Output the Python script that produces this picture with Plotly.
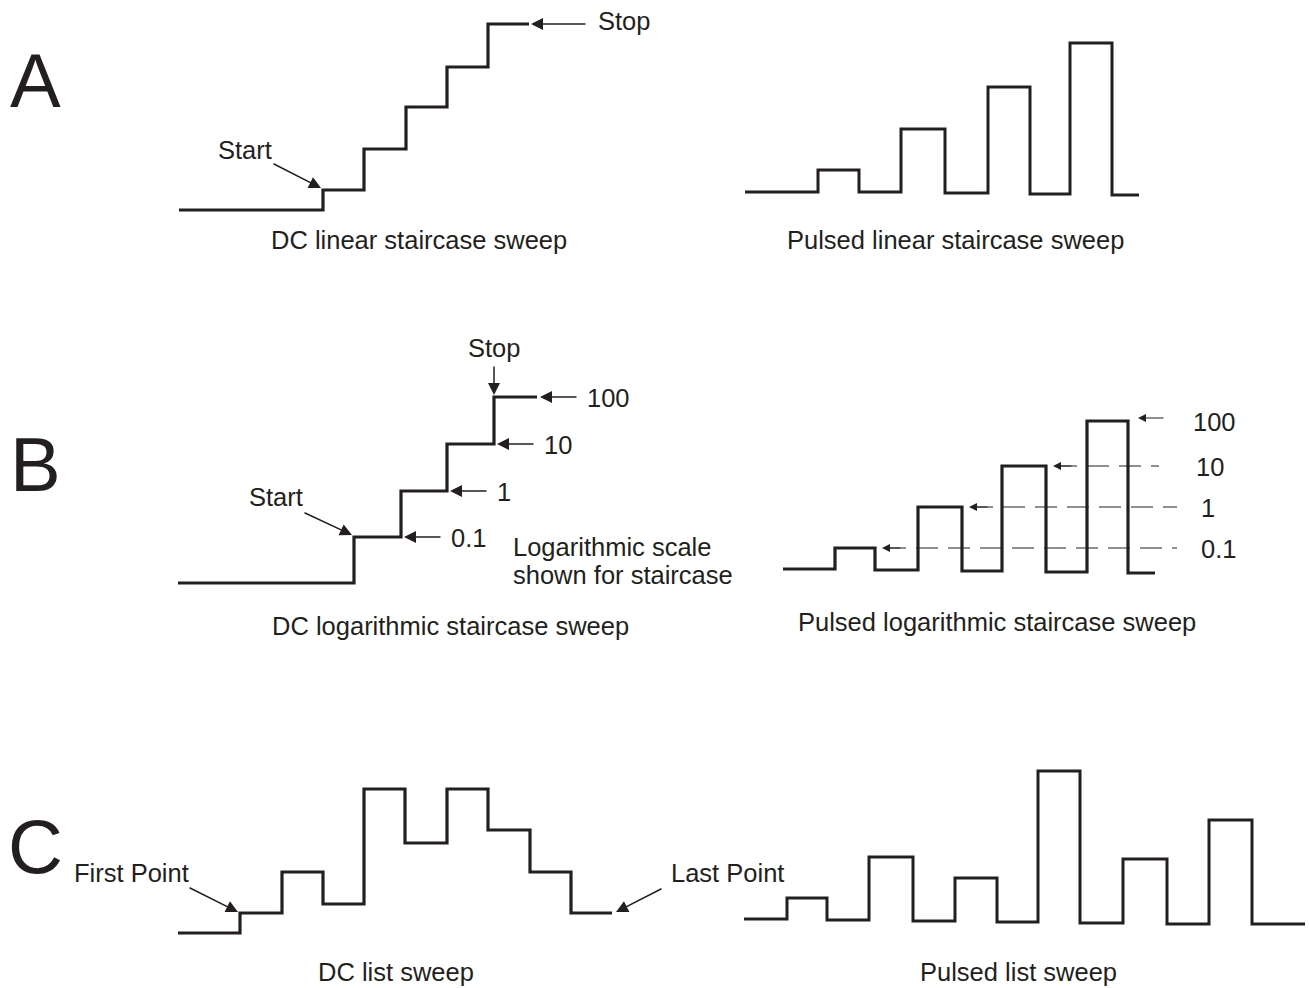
import plotly.graph_objects as go

# canvas units: x to the right, y downward (same as the drawing)
INK = "#231f20"
FONT = "Liberation Sans, Arial, Helvetica, sans-serif"

# A: linear staircase
dc_lin_edges = [179, 323, 364, 406, 447, 488, 529]
dc_lin_levels = [210, 190, 149, 107, 67, 24]
pulsed_lin_edges = [745, 818, 859, 901, 945, 988, 1030, 1070, 1112, 1139]
pulsed_lin_levels = [192, 170, 192, 129, 193, 87, 194, 43, 195]

# B: logarithmic staircase
dc_log_edges = [178, 354, 401, 447, 494, 537]
dc_log_levels = [583, 537, 491, 444, 397]
pulsed_log_edges = [783, 835, 875, 918, 962, 1002, 1046, 1087, 1128, 1155]
pulsed_log_levels = [569, 548, 570, 507, 571, 466, 572, 421, 573]
log_labels = ["0.1", "1", "10", "100"]

# C: list sweep
dc_list_edges = [178, 240, 282, 323, 364, 405, 447, 488, 530, 571, 612]
dc_list_levels = [933, 913, 872, 904, 789, 843, 789, 830, 872, 913]
pulsed_list_edges = [744, 787, 827, 869, 913, 955, 997, 1038, 1080, 1123, 1167, 1209, 1252, 1305]
pulsed_list_levels = [919, 898, 920, 857, 921, 878, 922, 771, 923, 859, 924, 820, 924]

captions = [
    ("DC linear staircase sweep", 419, 240),
    ("Pulsed linear staircase sweep", 955, 240),
    ("DC logarithmic staircase sweep", 450, 626),
    ("Pulsed logarithmic staircase sweep", 997, 622),
    ("DC list sweep", 396, 972),
    ("Pulsed list sweep", 1018, 972),
]
panel_letters = [("A", 35, 80), ("B", 35, 464), ("C", 35, 846)]

fig = go.Figure()


def add_steps(edges, levels, width=3.2):
    fig.add_trace(
        go.Scatter(
            x=edges,
            y=levels + [levels[-1]],
            mode="lines",
            line=dict(color=INK, width=width, shape="hv"),
            hoverinfo="skip",
            showlegend=False,
        )
    )


def add_arrow(x_tip, y_tip, x_tail, y_tail, width=1.5, size=1.6):
    fig.add_annotation(
        x=x_tip, y=y_tip, ax=x_tail, ay=y_tail,
        xref="x", yref="y", axref="x", ayref="y",
        text="", showarrow=True,
        arrowhead=2, arrowsize=size, arrowwidth=width, arrowcolor=INK,
    )


def add_text(text, x, y, size=25.5, xanchor="center"):
    fig.add_annotation(
        x=x, y=y, xref="x", yref="y", text=text, showarrow=False,
        xanchor=xanchor, yanchor="middle",
        font=dict(family=FONT, size=size, color=INK),
    )


add_steps(dc_lin_edges, dc_lin_levels)
add_steps(pulsed_lin_edges, pulsed_lin_levels, width=3)
add_steps(dc_log_edges, dc_log_levels)
add_steps(pulsed_log_edges, pulsed_log_levels)
add_steps(dc_list_edges, dc_list_levels)
add_steps(pulsed_list_edges, pulsed_list_levels, width=3)

# A annotations
add_text("Start", 245, 150)
add_arrow(321, 188, 272, 163)
add_text("Stop", 624, 21)
add_arrow(531, dc_lin_levels[-1], 587, dc_lin_levels[-1])

# B, DC: log values on each step
add_text("Start", 276, 497)
add_arrow(352, 535, 303, 512)
add_text("Stop", 494, 348)
add_arrow(dc_log_edges[-2], dc_log_levels[-1] - 2, dc_log_edges[-2], 365)
for i, lab in enumerate(log_labels):
    y = dc_log_levels[i + 1]
    tip = dc_log_edges[i + 2] + 3
    add_arrow(tip, y, tip + 38, y)
    add_text(lab, tip + 45, y + 1, xanchor="left")
add_text("Logarithmic scale", 511, 547, xanchor="left")
add_text("shown for staircase", 511, 575, xanchor="left")

# B, pulsed: dashed reference lines to the log levels
pulse_tops = pulsed_log_levels[1::2]
pulse_right = pulsed_log_edges[2::2]
dash_end = [1177, 1177, 1159, 1165]
label_x = [1218, 1208, 1210, 1214]
for i, lab in enumerate(log_labels):
    y = pulse_tops[i]
    tip = pulse_right[i] + 7 if i < 3 else pulse_right[i] + 10
    if i < 3:
        fig.add_trace(
            go.Scatter(
                x=[tip + 2, dash_end[i]], y=[y, y], mode="lines",
                line=dict(color=INK, width=1, dash="22px,10px"),
                hoverinfo="skip", showlegend=False,
            )
        )
        add_arrow(tip, y, tip + 20, y, width=1, size=1.6)
    else:
        add_arrow(tip, y - 3, dash_end[i], y - 3, width=1, size=1.6)
    add_text(lab, label_x[i], y + 1)

# C annotations
add_text("First Point", 131, 873)
add_arrow(238, 912, 188, 887)
add_text("Last Point", 727, 873)
add_arrow(616, 912, 663, 888)

for text, x, y in captions:
    add_text(text, x, y)
for letter, x, y in panel_letters:
    add_text(letter, x, y, size=76)

fig.update_layout(
    width=1309,
    height=988,
    margin=dict(l=0, r=0, t=0, b=0),
    paper_bgcolor="white",
    plot_bgcolor="white",
    xaxis=dict(range=[0, 1309], visible=False, fixedrange=True),
    yaxis=dict(range=[988, 0], visible=False, fixedrange=True),
)

# drop the default page margin so the drawing sits at the window corner
fig.write_html(
    "out.html",
    config={"displayModeBar": False},
    post_script="document.body.style.margin='0';",
)
